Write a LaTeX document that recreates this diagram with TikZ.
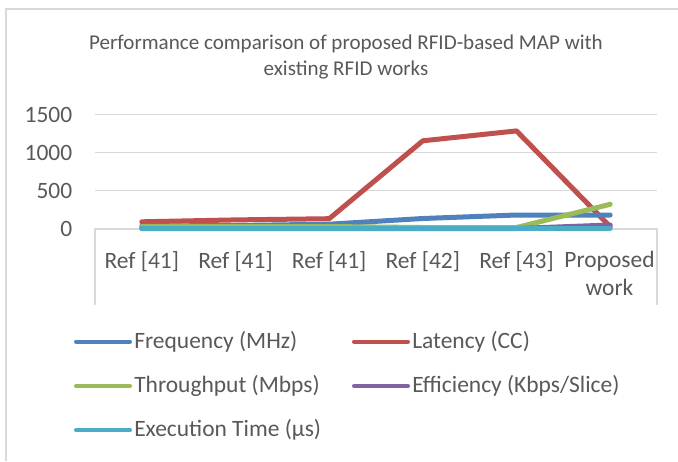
\documentclass[tikz,border=0pt]{standalone}
\usepackage{fontspec}
\setmainfont{Carlito}
\definecolor{txtgray}{HTML}{595959}
\definecolor{gridgray}{HTML}{D9D9D9}
\definecolor{sblue}{HTML}{4F81BD}
\definecolor{sred}{HTML}{C0504D}
\definecolor{sgreen}{HTML}{9BBB59}
\definecolor{spurple}{HTML}{8064A2}
\definecolor{scyan}{HTML}{4BACC6}
\tikzset{
  lbl/.style={text=txtgray, font=\fontsize{17.6}{21}\selectfont, inner sep=0pt},
  ttl/.style={text=txtgray, font=\fontsize{15.8}{20}\selectfont, inner sep=0pt, align=center},
  gridln/.style={draw=gridgray, line width=1.1pt},
  series/.style={line width=3.75pt, line cap=round, line join=round},
  legln/.style={line width=3pt, line cap=round},
}
\begin{document}
\begin{tikzpicture}[x=0.75pt,y=-0.75pt]
\useasboundingbox (0,0) rectangle (678,461);
\fill[white] (0,0) rectangle (678,461);
% chart border
\draw[gridln] (6,461) -- (6,9) -- (678,9);
% title
\node[ttl] (title) at (346,57) {Performance comparison of proposed RFID-based MAP with\\existing RFID works};
% gridlines
\foreach \yy in {114.7,152.7,190.7} \draw[gridln] (95,\yy) -- (657,\yy);
% axis
\draw[gridln] (95,305) -- (95,229) -- (657,229) -- (657,305);
% y labels
\node[lbl, anchor=east] (y1500) at (72.5,114.7) {1500};
\node[lbl, anchor=east] (y1000) at (72.5,152.7) {1000};
\node[lbl, anchor=east] (y500) at (72.5,190.7) {500};
\node[lbl, anchor=east] (y0) at (72.5,229) {0};
% x labels
\node[lbl] (c1) at (141.8,262) {Ref [41]};
\node[lbl] (c2) at (235.5,262) {Ref [41]};
\node[lbl] (c3) at (329.2,262) {Ref [41]};
\node[lbl] (c4) at (422.8,262) {Ref [42]};
\node[lbl] (c5) at (516.5,262) {Ref [43]};
\node[lbl, align=center, anchor=north] (c6) at (609.5,251) {Proposed\\work};
% series
\draw[series, sred] (141.8,221.8) -- (235.5,219.9) -- (329.2,218.7) -- (422.8,140.8) -- (516.5,130.9) -- (610.2,226.7);
\draw[series, sblue] (141.8,226) -- (235.5,225.5) -- (329.2,224.2) -- (422.8,218.5) -- (516.5,215) -- (610.2,215);
\draw[series, sgreen] (141.8,226.5) -- (235.5,226.5) -- (329.2,226.5) -- (422.8,227.5) -- (516.5,227.5) -- (610.2,204.3);
\draw[series, spurple] (141.8,228.5) -- (235.5,228.5) -- (329.2,228.5) -- (422.8,228.5) -- (516.5,228.5) -- (610.2,225);
\draw[series, scyan] (141.8,228.3) -- (235.5,228.3) -- (329.2,228.3) -- (422.8,228.3) -- (516.5,228.3) -- (610.2,228.3);
% legend
\coordinate (l1a) at (76,341.5); \coordinate (l1b) at (130,341.5);
\coordinate (l2a) at (354,341.5); \coordinate (l2b) at (408,341.5);
\coordinate (l3a) at (76,386); \coordinate (l3b) at (130,386);
\coordinate (l4a) at (354,386); \coordinate (l4b) at (408,386);
\coordinate (l5a) at (76,430); \coordinate (l5b) at (130,430);
\draw[legln, sblue] (l1a) -- (l1b);
\draw[legln, sred] (l2a) -- (l2b);
\draw[legln, sgreen] (l3a) -- (l3b);
\draw[legln, spurple] (l4a) -- (l4b);
\draw[legln, scyan] (l5a) -- (l5b);
\node[lbl, anchor=west] (t1) at (134,341.5) {Frequency (MHz)};
\node[lbl, anchor=west] (t2) at (412,341.5) {Latency (CC)};
\node[lbl, anchor=west] (t3) at (134,386) {Throughput (Mbps)};
\node[lbl, anchor=west] (t4) at (412,386) {Efficiency (Kbps/Slice)};
\node[lbl, anchor=west] (t5) at (134,430) {Execution Time (µs)};
\end{tikzpicture}
\end{document}
